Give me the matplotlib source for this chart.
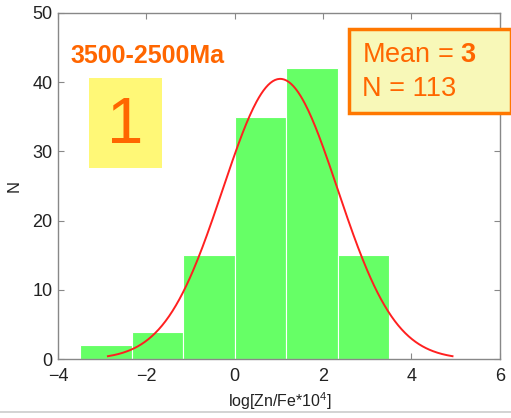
import numpy as np
import matplotlib
matplotlib.use("Agg")
import matplotlib.pyplot as plt
from matplotlib.lines import Line2D
from matplotlib.patches import Rectangle

plt.rcParams['font.family'] = ['Liberation Sans', 'DejaVu Sans']
plt.rcParams['mathtext.fontset'] = 'custom'
plt.rcParams['mathtext.rm'] = 'Liberation Sans'
plt.rcParams['mathtext.bf'] = 'Liberation Sans:bold'
plt.rcParams['mathtext.it'] = 'Liberation Sans:italic'

# Data
bin_edges = [-3.5, -2.3333, -1.1667, 0.0, 1.1667, 2.3333, 3.5]
counts = [2, 4, 15, 35, 42, 15]
fit_mu = 1.03
fit_sigma = 1.3
n_total = 113
period_label = "3500-2500Ma"
panel_label = "1"
xticks = [-4, -2, 0, 2, 4, 6]
yticks = [0, 10, 20, 30, 40, 50]

orange = '#FF6600'

fig = plt.figure(figsize=(5.11, 4.18), dpi=100)
ax = fig.add_axes([0.1135, 0.1404, 0.8645, 0.8292])

edges = np.array(bin_edges)
widths = np.diff(edges)
ax.bar(edges[:-1], counts, width=widths, align='edge', color='#66FF66',
       edgecolor='white', linewidth=0.8, zorder=2)

bw = widths.mean()
xs = np.linspace(fit_mu - 3 * fit_sigma, fit_mu + 3 * fit_sigma, 300)
ys = n_total * bw / (fit_sigma * np.sqrt(2 * np.pi)) * np.exp(-0.5 * ((xs - fit_mu) / fit_sigma) ** 2)
ax.plot(xs, ys, color='#FF2020', lw=1.4, zorder=3)

ax.set_xlim(-4, 6)
ax.set_ylim(0, 50)
ax.set_xticks(xticks)
ax.set_yticks(yticks)
ax.set_xticklabels(['\u22124', '\u22122', '0', '2', '4', '6'])
for s in ax.spines.values():
    s.set_color('#888888')
    s.set_linewidth(1.0)
ax.tick_params(direction='in', top=True, right=True, length=4, width=0.8,
               color='#888888', labelsize=13, labelcolor='#222222')
ax.tick_params(axis='x', pad=6.5)
ax.tick_params(axis='y', pad=4)

ax.set_ylabel('N', fontsize=12, color='#222222', labelpad=8)
fig.text(280 / 511, 1 - 401 / 418, 'log[Zn/Fe*10$^4$]', fontsize=11.5,
         color='#222222', ha='center', va='center')

# Annotations
fig.text(70 / 511, 1 - 56 / 418, period_label, color=orange, fontsize=18,
         fontweight='bold', ha='left', va='center')

fig.add_artist(Rectangle((89 / 511, 1 - 168 / 418), 73 / 511, 90 / 418,
                         transform=fig.transFigure, facecolor='#FFF877',
                         edgecolor='none', zorder=5))
fig.text(125 / 511, 1 - 126 / 418, panel_label, color=orange, fontsize=47,
         ha='center', va='center', zorder=6)

fig.add_artist(Rectangle((349 / 511, 1 - 113 / 418), 162 / 511, 84 / 418,
                         transform=fig.transFigure, facecolor='#F8F8B8',
                         edgecolor='#FF7700', linewidth=2.5, zorder=5))
fig.text(362 / 511, 1 - 55 / 418, 'Mean = $\\mathbf{3}$', color=orange,
         fontsize=19.5, ha='left', va='center', zorder=6)
fig.text(362 / 511, 1 - 89 / 418, 'N = %d' % n_total, color=orange,
         fontsize=19.5, ha='left', va='center', zorder=6)

fig.add_artist(Line2D([0, 1], [1 - 412 / 418, 1 - 412 / 418],
                      transform=fig.transFigure, color='#CCCCCC', lw=1.2))

fig.savefig('out.png', dpi=100)
